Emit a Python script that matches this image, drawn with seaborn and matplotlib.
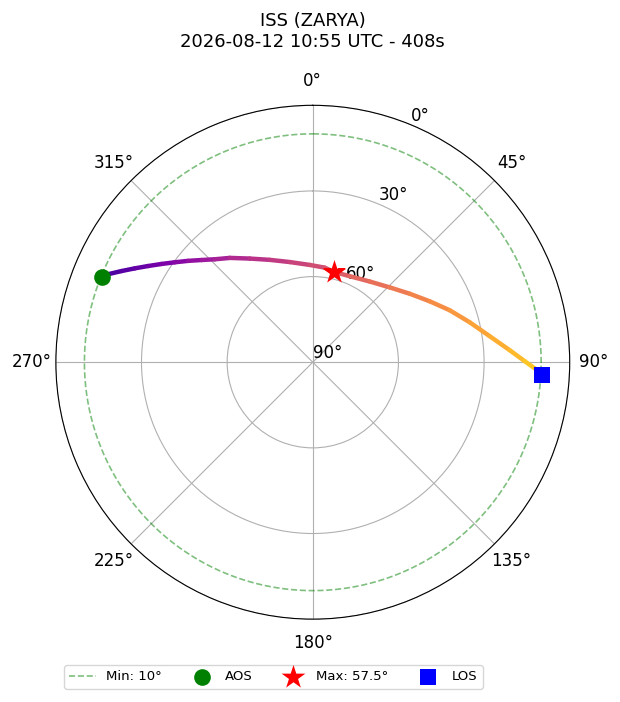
import numpy as np
import matplotlib
matplotlib.use('Agg')
import matplotlib.pyplot as plt
import seaborn as sns
from matplotlib.collections import LineCollection

# pass track (azimuth deg, elevation deg)
track_az = [291.9, 293.3, 295.5, 297.8, 300.3, 303.0, 305.9, 309.1, 312.6, 316.4,
            321.5, 328.7, 337.2, 347.1, 358.2, 7.2, 13.0, 23.3, 35.2, 45.8,
            54.8, 62.5, 69.2, 75.7, 81.6, 86.5, 89.7, 91.6]
track_el = [10.3, 12.0, 15.8, 19.5, 23.2, 26.8, 30.3, 33.7, 37.1, 40.2,
            43.3, 47.5, 51.1, 54.0, 55.9, 56.6, 57.5, 57.2, 55.4, 52.4,
            48.4, 43.8, 38.7, 33.3, 27.4, 20.9, 15.8, 12.2]

aos_az, aos_el = 291.9, 10.3
max_az, max_el = 13.0, 57.5
los_az, los_el = 93.2, 9.6
min_el = 10

title = 'ISS (ZARYA)\n2026-08-12 10:55 UTC - 408s'
r_ticks = [0, 30, 60, 90]
r_labels = ['0°', '30°', '60°', '90°']

fig = plt.figure(figsize=(6.2, 7.02), dpi=100)
ax = fig.add_axes([0.090, 0.118, 0.829, 0.732], projection='polar')
ax.set_theta_zero_location('N')
ax.set_theta_direction(-1)

# track coloured along time
th = np.unwrap(np.radians(track_az))
pts = np.column_stack([th, track_el])
segs = np.stack([pts[:-1], pts[1:]], axis=1)
cols = plt.get_cmap('plasma')(np.linspace(0.1, 0.88, len(segs)))
lc = LineCollection(segs, colors=cols, linewidths=3.2, capstyle='round', zorder=3)
ax.add_collection(lc)

# minimum elevation circle
circ = np.linspace(0, 2 * np.pi, 361)
sns.lineplot(x=circ, y=[min_el] * len(circ), sort=False, ax=ax, color='green',
             alpha=0.5, linestyle='--', linewidth=1.2, label=f'Min: {min_el}°')

sns.scatterplot(x=[np.radians(aos_az)], y=[aos_el], ax=ax, color='green', marker='o',
                s=12 ** 2, linewidth=0, label='AOS', zorder=5)
sns.scatterplot(x=[np.radians(max_az)], y=[max_el], ax=ax, color='red', marker='*',
                s=18 ** 2, linewidth=0, label=f'Max: {max_el}°', zorder=5)
sns.scatterplot(x=[np.radians(los_az)], y=[los_el], ax=ax, color='blue', marker='s',
                s=11 ** 2, linewidth=0, label='LOS', zorder=5)

ax.set_ylim(90, 0)
ax.set_yticks(r_ticks)
ax.set_yticklabels(r_labels)
ax.set_rlabel_position(22.5)
ax.set_thetagrids(np.arange(0, 360, 45), [f'{d}°' for d in range(0, 360, 45)])
ax.tick_params(labelsize=12)
ax.tick_params(axis='x', pad=7)
ax.set_xlabel('')
ax.set_ylabel('')
ax.grid(True)
ax.set_title(title, fontsize=13, pad=42)

ax.legend(loc='center', bbox_to_anchor=(273.5 / 620, 1 - 677 / 702),
          bbox_transform=fig.transFigure, ncol=4, fontsize=9.5)

fig.savefig('out.png', dpi=100)
